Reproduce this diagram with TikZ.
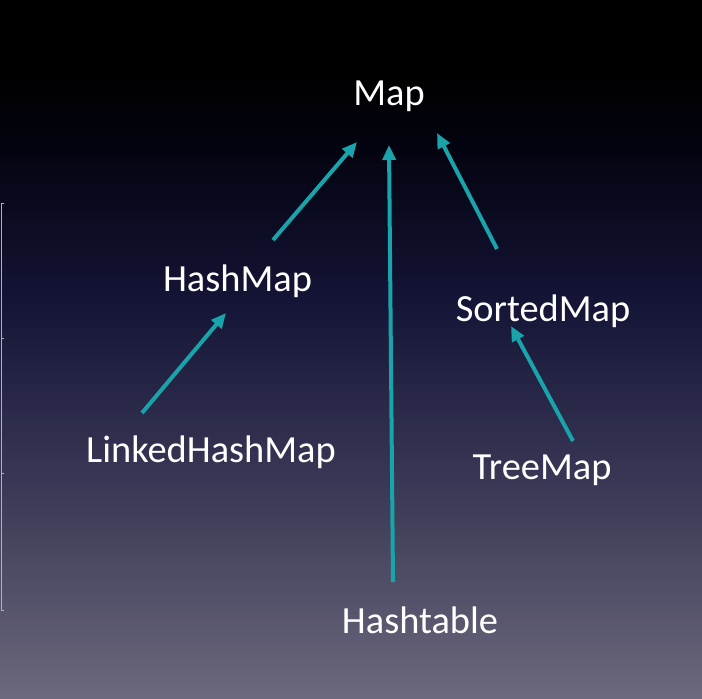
\documentclass[tikz,border=0pt]{standalone}
\usepackage{fontspec}
\setmainfont{Carlito}
\usetikzlibrary{arrows.meta}
\definecolor{turkoosi}{RGB}{24,164,170}
\definecolor{pohja1}{RGB}{108,105,124}
\definecolor{pohja2}{RGB}{60,59,88}
\definecolor{pohja3}{RGB}{20,20,54}
\definecolor{pohja4}{RGB}{3,3,14}
\pgfdeclareverticalshading{tausta}{100bp}{color(0bp)=(pohja1); color(25bp)=(pohja1); color(39.3bp)=(pohja2); color(53.6bp)=(pohja3); color(65bp)=(pohja4); color(70bp)=(black); color(100bp)=(black)}

\begin{document}
\begin{tikzpicture}[x=1pt,y=-1pt,
  luokka/.style={text=white,font=\fontsize{38.4}{46}\selectfont,inner sep=0pt,anchor=base},
  peri/.style={draw=turkoosi,line width=4pt,-{Triangle[length=15pt,width=13pt]}}]
\shade[shading=tausta] (0,0) rectangle (702,699);
\useasboundingbox (0,0) rectangle (702,699);
% reunaviiva vasemmalla
\draw[gray!60,line width=1pt] (4,203) -- (1.5,203) -- (1.5,610) -- (4,610);
\draw[gray!60,line width=1pt] (1.5,338) -- (4,338);
\draw[gray!60,line width=1pt] (1.5,473) -- (4,473);

\node[luokka] (map) at (389,105) {Map};
\node[luokka] (hashmap) at (237.5,291) {HashMap};
\node[luokka] (sortedmap) at (543,321) {SortedMap};
\node[luokka] (linkedhashmap) at (211,462) {LinkedHashMap};
\node[luokka] (treemap) at (542,479) {TreeMap};
\node[luokka] (hashtable) at (420,633) {Hashtable};

\draw[peri] ([xshift=35.5pt,yshift=51pt]hashmap.base) -- ([xshift=-32pt,yshift=-37pt]map.base);
\draw[peri] ([xshift=-27pt,yshift=51pt]hashtable.base) -- ([xshift=0pt,yshift=-40pt]map.base);
\draw[peri] ([xshift=-46pt,yshift=72pt]sortedmap.base) -- ([xshift=48pt,yshift=-28pt]map.base);
\draw[peri] ([xshift=-69pt,yshift=49pt]linkedhashmap.base) -- ([xshift=-11.5pt,yshift=-22pt]hashmap.base);
\draw[peri] ([xshift=31pt,yshift=38pt]treemap.base) -- ([xshift=-32pt,yshift=-5pt]sortedmap.base);
\end{tikzpicture}
\end{document}
